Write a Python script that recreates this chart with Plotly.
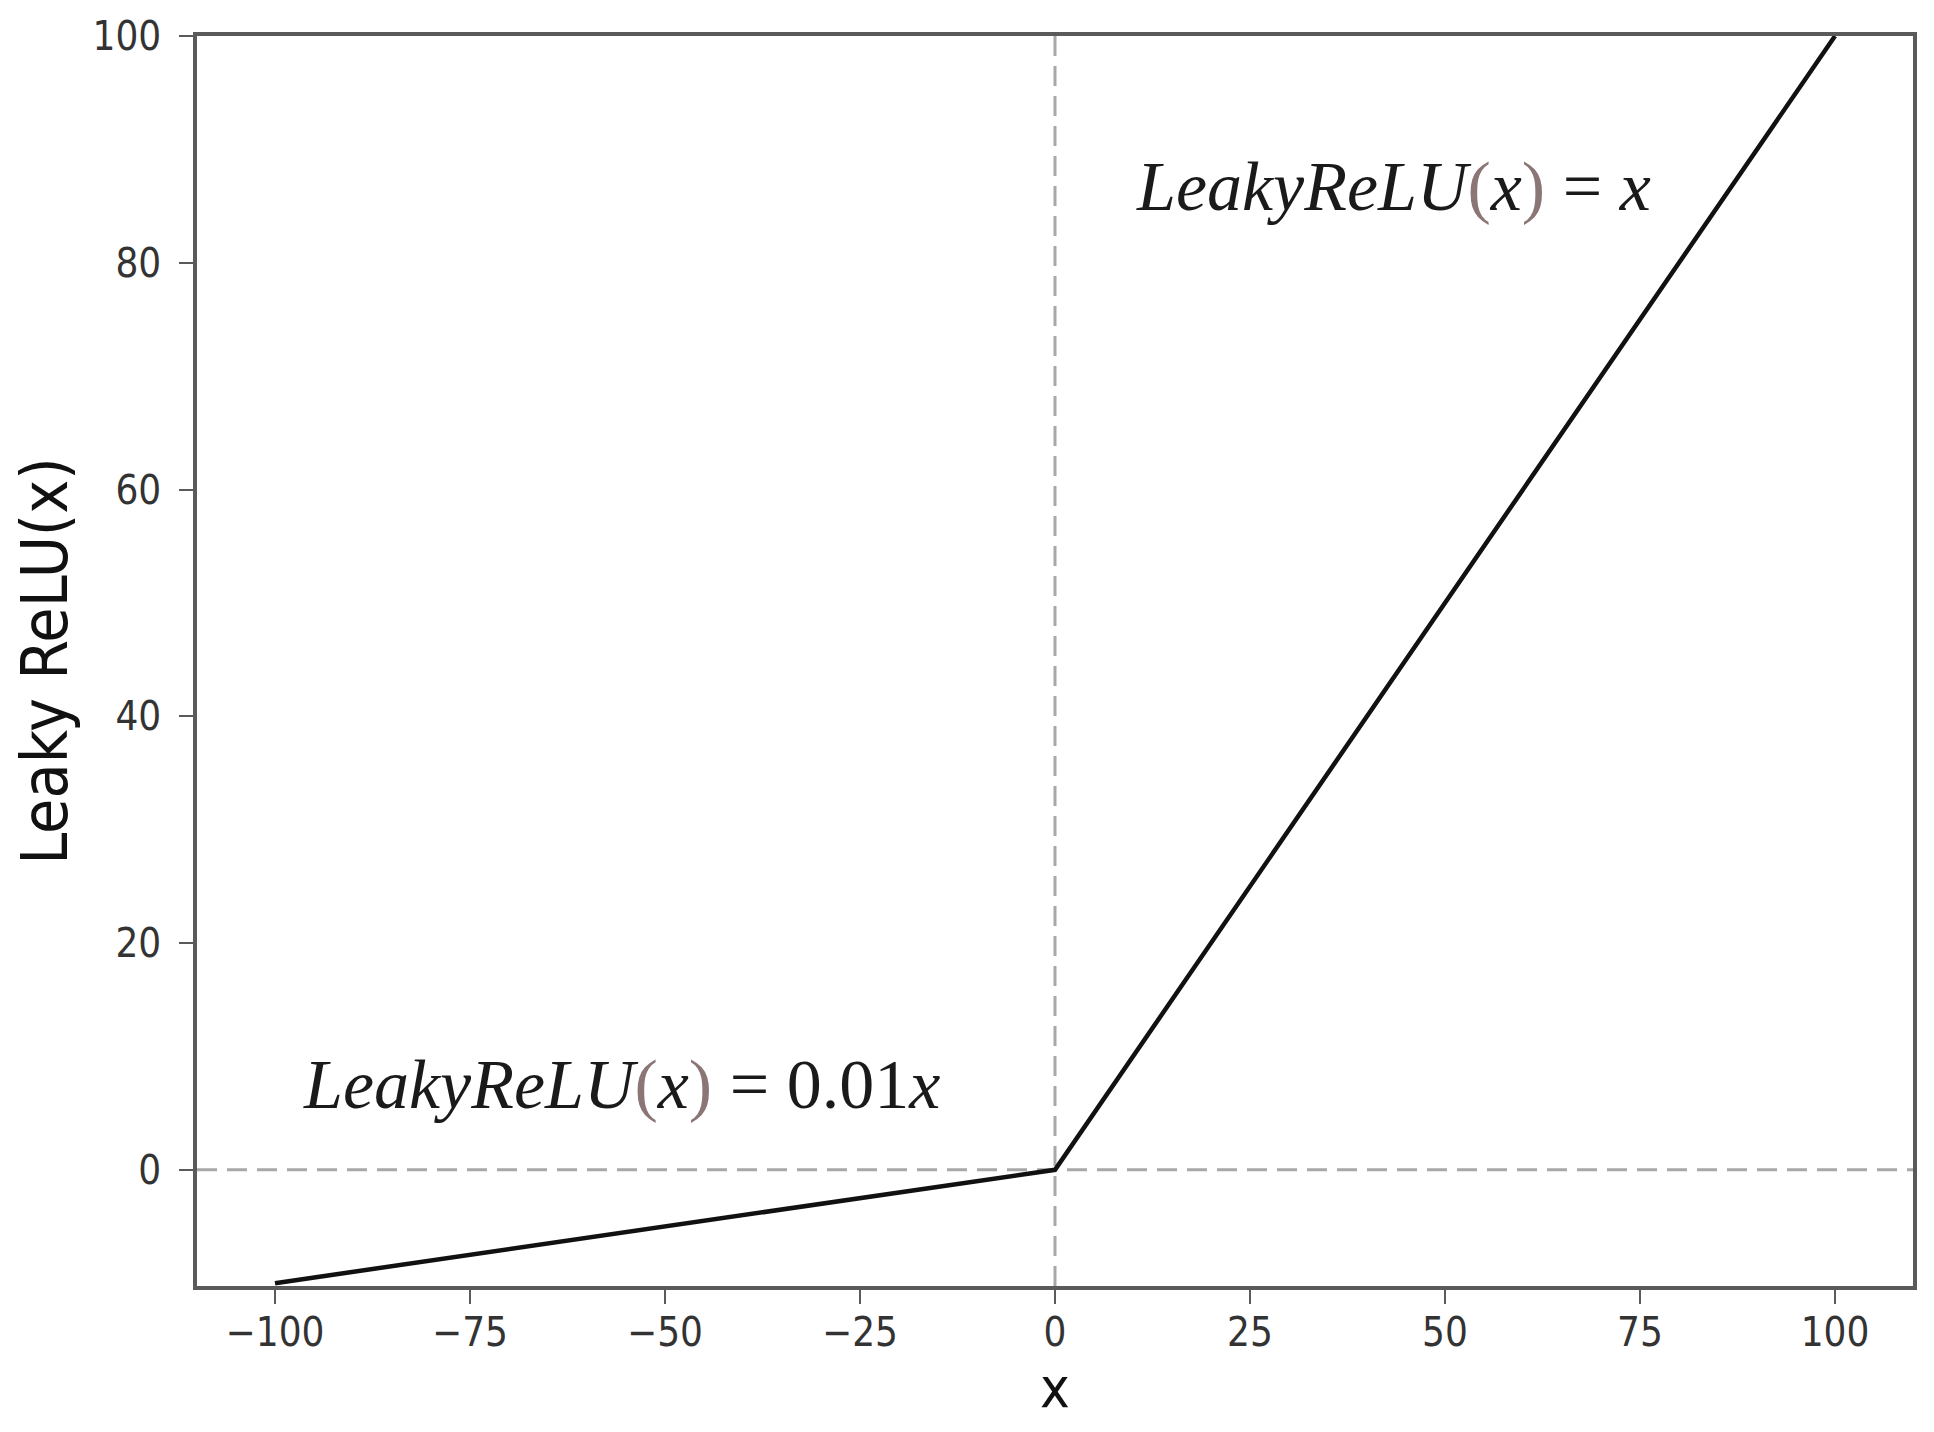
import plotly.graph_objects as go

# data
x_vals = [-100, 0, 100]
y_vals = [-10, 0, 100]
x_ticks = [-100, -75, -50, -25, 0, 25, 50, 75, 100]
y_ticks = [0, 20, 40, 60, 80, 100]
x_range = [-110, 110]
y_range = [-10.25, 100]

fig = go.Figure()

# reference dashed lines
fig.add_trace(go.Scatter(x=[0, 0], y=y_range, mode="lines",
                         line=dict(color="#a8a8a8", width=3, dash="20px,10px"),
                         hoverinfo="skip", showlegend=False))
fig.add_trace(go.Scatter(x=x_range, y=[0, 0], mode="lines",
                         line=dict(color="#a8a8a8", width=3, dash="20px,10px"),
                         hoverinfo="skip", showlegend=False))

fig.add_trace(go.Scatter(x=x_vals, y=y_vals, mode="lines",
                         line=dict(color="#111111", width=4.5),
                         showlegend=False))

par = "<span style='color:#8c7575'>%s</span>"
txt1 = "<i>LeakyReLU</i>" + par % "(" + "<i>x</i>" + par % ")" + " = <i>x</i>"
txt2 = "<i>LeakyReLU</i>" + par % "(" + "<i>x</i>" + par % ")" + " = 0.01<i>x</i>"

ann_font = dict(family="Liberation Serif", size=70, color="#1a1a1a")
fig.add_annotation(x=10.1, y=86.7, text=txt1, showarrow=False, xanchor="left",
                   yanchor="middle", font=ann_font)
fig.add_annotation(x=-96.7, y=7.5, text=txt2, showarrow=False, xanchor="left",
                   yanchor="middle", font=ann_font)

tick_font = dict(family="DejaVu Sans Condensed, DejaVu Sans", size=40, color="#333333")
axis_common = dict(showgrid=False, zeroline=False, showline=True, mirror=True,
                   linecolor="#5a5a5a", linewidth=3.5, ticks="outside",
                   ticklen=14, tickwidth=2, tickcolor="#5a5a5a",
                   tickfont=tick_font)

fig.update_xaxes(range=x_range, tickvals=x_ticks,
                 ticktext=[str(v).replace("-", "\u2212") for v in x_ticks],
                 ticklabelstandoff=-6,
                 title=dict(text="x", font=dict(family="DejaVu Sans Condensed, DejaVu Sans",
                                                size=56, color="#111111"),
                            standoff=14),
                 **axis_common)
fig.update_yaxes(range=y_range, tickvals=y_ticks,
                 ticktext=[str(v) for v in y_ticks],
                 ticklabelstandoff=10,
                 title=dict(text="Leaky ReLU(x)", font=dict(family="DejaVu Sans Condensed, DejaVu Sans",
                                                            size=64, color="#111111"),
                            standoff=18),
                 **axis_common)

fig.update_layout(width=1918, height=1416,
                  margin=dict(l=189, r=13, t=28, b=138, autoexpand=False),
                  paper_bgcolor="white", plot_bgcolor="white")

fig.write_html("out.html")
